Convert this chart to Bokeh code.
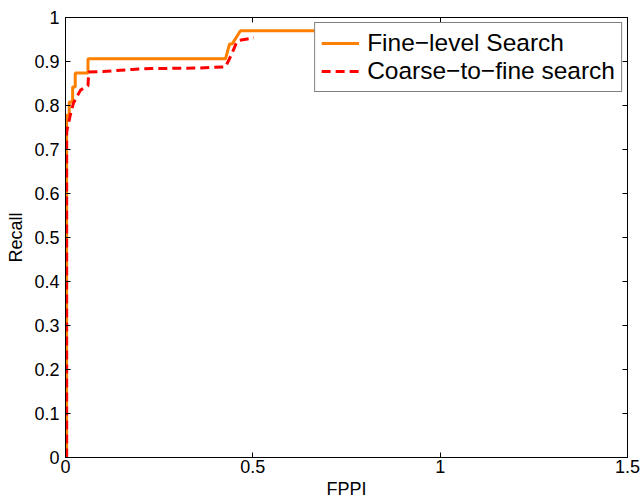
from bokeh.plotting import figure
from bokeh.models import LinearAxis, FixedTicker, Range1d
from bokeh.embed import file_html
from bokeh.resources import INLINE

# Data
fine_fppi = [0.003, 0.003, 0.010, 0.010, 0.019, 0.019, 0.026, 0.026, 0.060, 0.060, 0.427, 0.438, 0.445, 0.467, 0.75]
fine_recall = [0.0, 0.778, 0.778, 0.808, 0.808, 0.842, 0.842, 0.874, 0.874, 0.906, 0.906, 0.94, 0.94, 0.97, 0.97]

coarse_fppi = [0.003, 0.003, 0.012, 0.021, 0.040, 0.060, 0.062, 0.100, 0.178, 0.230, 0.347, 0.427, 0.442, 0.455, 0.462, 0.503]
coarse_recall = [0.0, 0.74, 0.775, 0.805, 0.835, 0.845, 0.876, 0.877, 0.882, 0.884, 0.885, 0.888, 0.914, 0.94, 0.948, 0.954]

x_ticks = [0, 0.5, 1, 1.5]
x_tick_labels = ["0", "0.5", "1", "1.5"]
y_ticks = [0, 0.1, 0.2, 0.3, 0.4, 0.5, 0.6, 0.7, 0.8, 0.9, 1]
y_tick_labels = ["0", "0.1", "0.2", "0.3", "0.4", "0.5", "0.6", "0.7", "0.8", "0.9", "1"]

FONT = "Liberation Sans"

p = figure(width=641, height=501, output_backend="svg", toolbar_location=None,
           x_range=Range1d(0, 1.5), y_range=Range1d(0, 1),
           min_border_left=65, min_border_right=14, min_border_top=17, min_border_bottom=42,
           x_axis_label="FPPI", y_axis_label="Recall")
p.background_fill_color = "white"
p.border_fill_color = "white"
p.outline_line_color = "black"
p.outline_line_width = 1
p.grid.visible = False

def style_axis(ax, ticks, labels, show_labels=True):
    ax.ticker = FixedTicker(ticks=ticks)
    ax.major_tick_in = 5
    ax.major_tick_out = 0
    ax.minor_tick_line_color = None
    ax.axis_line_color = "black"
    ax.major_tick_line_color = "black"
    if show_labels:
        ax.major_label_overrides = {t: l for t, l in zip(ticks, labels)}
        ax.major_label_text_font = FONT
        ax.major_label_text_color = "black"
        ax.major_label_text_font_size = "18px"
        ax.axis_label_text_font = FONT
        ax.axis_label_text_font_style = "normal"
        ax.axis_label_text_font_size = "18px"
        ax.axis_label_text_color = "black"
    else:
        ax.major_label_text_color = None
        ax.major_label_text_font_size = "1px"
        ax.major_label_standoff = 0

style_axis(p.xaxis[0], x_ticks, x_tick_labels)
style_axis(p.yaxis[0], y_ticks, y_tick_labels)
p.xaxis[0].major_label_standoff = 2
p.xaxis[0].axis_label_standoff = 3
p.yaxis[0].major_label_standoff = 6
p.yaxis[0].axis_label_standoff = 5

top_axis = LinearAxis()
right_axis = LinearAxis()
style_axis(top_axis, x_ticks, x_tick_labels, show_labels=False)
style_axis(right_axis, y_ticks, y_tick_labels, show_labels=False)
p.add_layout(top_axis, "above")
p.add_layout(right_axis, "right")

p.line(fine_fppi, fine_recall, line_color="#FF8000", line_width=3,
       legend_label="Fine\u2212level Search")
p.line(coarse_fppi, coarse_recall, line_color="#FF0000", line_width=3, line_dash="9 5",
       legend_label="Coarse\u2212to\u2212fine search")

lg = p.legend[0]
lg.location = "top_right"
lg.margin = 5
lg.padding = 6
lg.spacing = 0
lg.glyph_width = 38
lg.glyph_height = 24
lg.label_height = 24
lg.label_standoff = 8
lg.label_text_font = FONT
lg.label_text_font_size = "24.5px"
lg.label_text_color = "black"
lg.border_line_color = "black"
lg.border_line_width = 1
lg.background_fill_color = "white"
lg.background_fill_alpha = 1

open("out.html", "w").write(file_html(p, INLINE))
